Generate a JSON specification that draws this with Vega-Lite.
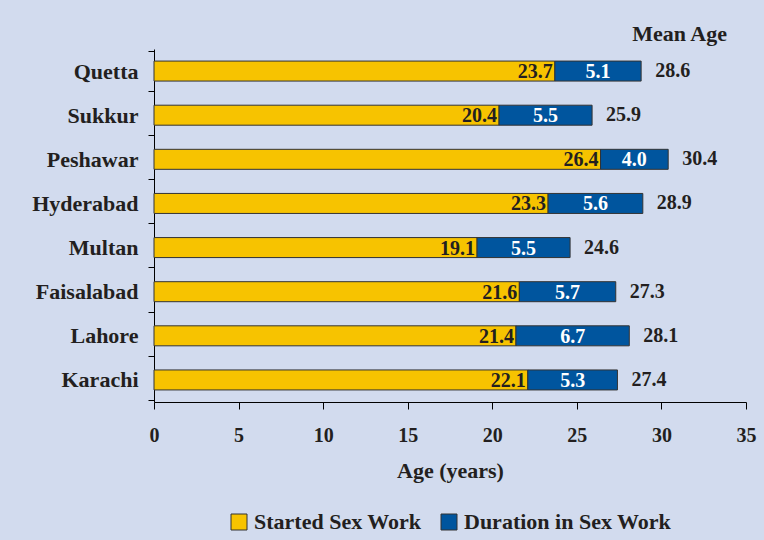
{
  "$schema": "https://vega.github.io/schema/vega-lite/v6.json",
  "width": 592,
  "height": 353,
  "autosize": {"type": "none"},
  "padding": {"left": 154, "top": 49, "right": 18, "bottom": 138},
  "background": "#d2dbee",
  "title": {"text": "Mean Age", "anchor": "end", "orient": "top", "dx": -29, "offset": -8, "font": "Liberation Serif", "fontSize": 22, "fontWeight": "bold", "color": "#231f20"},
  "config": {
    "view": {"stroke": null},
    "font": "Liberation Serif",
    "axis": {"labelFont": "Liberation Serif", "titleFont": "Liberation Serif", "labelFontWeight": "bold", "titleFontWeight": "bold", "labelColor": "#231f20", "titleColor": "#231f20", "domainColor": "#000000", "tickColor": "#000000", "grid": false},
    "legend": {"labelFont": "Liberation Serif", "labelFontWeight": "bold", "labelColor": "#231f20", "layout": {"bottom": {"anchor": "middle"}}}
  },
  "data": {"values": [
    {"city": "Quetta", "type": "Started Sex Work", "value": 23.7, "mean": 28.6},
    {"city": "Quetta", "type": "Duration in Sex Work", "value": 5.1, "mean": 28.6},
    {"city": "Sukkur", "type": "Started Sex Work", "value": 20.4, "mean": 25.9},
    {"city": "Sukkur", "type": "Duration in Sex Work", "value": 5.5, "mean": 25.9},
    {"city": "Peshawar", "type": "Started Sex Work", "value": 26.4, "mean": 30.4},
    {"city": "Peshawar", "type": "Duration in Sex Work", "value": 4.0, "mean": 30.4},
    {"city": "Hyderabad", "type": "Started Sex Work", "value": 23.3, "mean": 28.9},
    {"city": "Hyderabad", "type": "Duration in Sex Work", "value": 5.6, "mean": 28.9},
    {"city": "Multan", "type": "Started Sex Work", "value": 19.1, "mean": 24.6},
    {"city": "Multan", "type": "Duration in Sex Work", "value": 5.5, "mean": 24.6},
    {"city": "Faisalabad", "type": "Started Sex Work", "value": 21.6, "mean": 27.3},
    {"city": "Faisalabad", "type": "Duration in Sex Work", "value": 5.7, "mean": 27.3},
    {"city": "Lahore", "type": "Started Sex Work", "value": 21.4, "mean": 28.1},
    {"city": "Lahore", "type": "Duration in Sex Work", "value": 6.7, "mean": 28.1},
    {"city": "Karachi", "type": "Started Sex Work", "value": 22.1, "mean": 27.4},
    {"city": "Karachi", "type": "Duration in Sex Work", "value": 5.3, "mean": 27.4}
  ]},
  "encoding": {
    "y": {"field": "city", "type": "nominal",
      "sort": ["Quetta", "Sukkur", "Peshawar", "Hyderabad", "Multan", "Faisalabad", "Lahore", "Karachi"],
      "title": null,
      "axis": {"tickBand": "extent", "tickSize": 6, "labelPadding": 10, "labelFontSize": 22, "domainWidth": 1}}
  },
  "layer": [
    {
      "mark": {"type": "bar", "size": 20, "stroke": "#333333", "strokeWidth": 1},
      "encoding": {
        "x": {"field": "value", "type": "quantitative", "stack": "zero",
          "scale": {"domain": [0, 35]},
          "title": "Age (years)",
          "axis": {"values": [0, 5, 10, 15, 20, 25, 30, 35], "tickSize": 7, "labelPadding": 16, "labelFlush": false, "labelFontSize": 20, "titleFontSize": 22, "titlePadding": 15}},
        "color": {"field": "type", "type": "nominal", "title": null,
          "scale": {"domain": ["Started Sex Work", "Duration in Sex Work"], "range": ["#f7c300", "#00559e"]},
          "legend": {"orient": "bottom", "direction": "horizontal", "symbolType": "square", "symbolSize": 256, "symbolStrokeColor": "#333333", "symbolStrokeWidth": 1, "labelFontSize": 22, "labelLimit": 400, "labelOffset": 4, "offset": 30, "columnPadding": 16, "symbolOpacity": 1}},
        "order": {"field": "type", "sort": "descending"}
      }
    },
    {
      "transform": [{"filter": "datum.type === 'Started Sex Work'"}],
      "mark": {"type": "text", "align": "right", "baseline": "middle", "dx": -2, "dy": 1, "fontSize": 20, "fontWeight": "bold", "color": "#231f20"},
      "encoding": {
        "x": {"field": "value", "type": "quantitative", "stack": null},
        "text": {"field": "value", "type": "quantitative", "format": ".1f"}
      }
    },
    {
      "mark": {"type": "text", "align": "center", "baseline": "middle", "dy": 1, "fontSize": 20, "fontWeight": "bold", "color": "#ffffff"},
      "encoding": {
        "x": {"field": "value", "type": "quantitative", "stack": "zero", "bandPosition": 0.5},
        "detail": {"field": "type"},
        "order": {"field": "type", "sort": "descending"},
        "text": {"field": "value", "type": "quantitative", "format": ".1f"},
        "opacity": {"condition": {"test": "datum.type === 'Started Sex Work'", "value": 0}, "value": 1}
      }
    },
    {
      "transform": [{"aggregate": [{"op": "sum", "field": "value", "as": "total"}, {"op": "max", "field": "mean", "as": "meanAge"}], "groupby": ["city"]}],
      "mark": {"type": "text", "align": "left", "baseline": "middle", "dx": 14, "dy": 0, "fontSize": 20, "fontWeight": "bold", "color": "#231f20"},
      "encoding": {
        "x": {"field": "total", "type": "quantitative"},
        "text": {"field": "meanAge", "type": "quantitative", "format": ".1f"}
      }
    }
  ]
}
